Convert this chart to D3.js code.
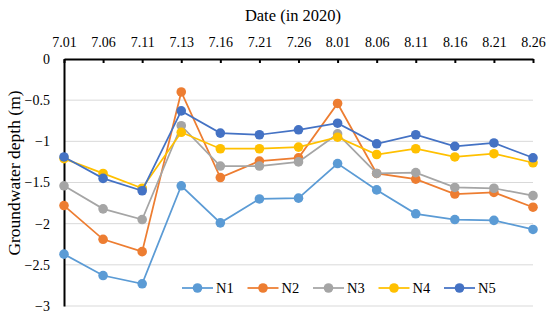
<!DOCTYPE html>
<html>
<head>
<meta charset="utf-8">
<script src="https://cdn.jsdelivr.net/npm/d3@7"></script>
<style>
	body { margin: 0; background: #fff; }
	svg text { font-family: 'Liberation Serif', 'Times New Roman', 'DejaVu Serif', serif !important; }
</style>
</head>
<body>
<svg id="chart" width="550" height="320"></svg>
<script>
'use strict';

// dates along the top axis
var dates = ['7.01', '7.06', '7.11', '7.13', '7.16', '7.21', '7.26', '8.01', '8.06', '8.11', '8.16', '8.21', '8.26'];

// groundwater depth per well (m)
var n1 = [-2.37, -2.63, -2.73, -1.54, -1.99, -1.70, -1.69, -1.27, -1.59, -1.88, -1.95, -1.96, -2.07];
var n2 = [-1.78, -2.19, -2.34, -0.40, -1.44, -1.24, -1.20, -0.54, -1.39, -1.46, -1.64, -1.62, -1.80];
var n3 = [-1.54, -1.82, -1.95, -0.81, -1.30, -1.30, -1.25, -0.91, -1.39, -1.38, -1.56, -1.57, -1.66];
var n4 = [-1.21, -1.39, -1.57, -0.89, -1.09, -1.09, -1.07, -0.95, -1.16, -1.09, -1.19, -1.15, -1.26];
var n5 = [-1.19, -1.45, -1.60, -0.63, -0.90, -0.92, -0.86, -0.78, -1.03, -0.92, -1.06, -1.02, -1.20];

var seriesNames = ['N1', 'N2', 'N3', 'N4', 'N5'];
var seriesValues = [n1, n2, n3, n4, n5];
var seriesColors = ['#5B9BD5', '#ED7D31', '#A5A5A5', '#FFC000', '#4472C4'];

var yTicks = [0, -0.5, -1, -1.5, -2, -2.5, -3];
var yTickLabels = ['0', '\u22120.5', '\u22121', '\u22121.5', '\u22122', '\u22122.5', '\u22123'];

var margin = { top: 59, right: 17, bottom: 14, left: 64 },
	width = 550 - margin.left - margin.right,
	height = 320 - margin.top - margin.bottom;

var svg = d3.select('#chart');
var g = svg.append('g')
	.attr('transform', 'translate(' + margin.left + ',' + margin.top + ')');

var x = d3.scalePoint()
	.domain(dates)
	.range([0, width]);

var y = d3.scaleLinear()
	.domain([0, -3])
	.range([0, height]);

// horizontal gridlines
g.append('g')
	.selectAll('line')
	.data(yTicks.slice(1))
	.enter().append('line')
	.attr('x1', 0)
	.attr('x2', width)
	.attr('y1', function (d) { return y(d); })
	.attr('y2', function (d) { return y(d); })
	.attr('stroke', '#d9d9d9')
	.attr('stroke-width', 1);

// left axis, labels only plus the black line
var yAxis = d3.axisLeft(y)
	.tickValues(yTicks)
	.tickSize(0)
	.tickPadding(14)
	.tickFormat(function (d, i) { return yTickLabels[i]; });

var axisY = g.append('g').call(yAxis);
axisY.select('.domain').attr('stroke', '#000').attr('stroke-width', 2);
axisY.selectAll('text')
	.attr('font-size', 14)
	.attr('fill', '#000');

// top axis with small inward ticks
var xAxis = d3.axisTop(x)
	.tickSizeInner(-4)
	.tickSizeOuter(0)
	.tickPadding(12);

var axisX = g.append('g').call(xAxis);
axisX.select('.domain').attr('stroke', '#000').attr('stroke-width', 2);
axisX.selectAll('.tick line').attr('stroke', '#000').attr('stroke-width', 2);
axisX.selectAll('text')
	.attr('font-size', 14)
	.attr('fill', '#000');

// titles
svg.append('text')
	.attr('x', 293)
	.attr('y', 21)
	.attr('text-anchor', 'middle')
	.attr('font-size', 16.5)
	.text('Date (in 2020)');

svg.append('text')
	.attr('transform', 'translate(20,173) rotate(-90)')
	.attr('text-anchor', 'middle')
	.attr('font-size', 17.5)
	.text('Groundwater depth (m)');

// the lines and markers
var line = d3.line()
	.x(function (d, i) { return x(dates[i]); })
	.y(function (d) { return y(d); });

seriesValues.forEach(function (vals, s) {
	var sg = g.append('g');
	sg.append('path')
		.datum(vals)
		.attr('d', line)
		.attr('fill', 'none')
		.attr('stroke', seriesColors[s])
		.attr('stroke-width', 1.75);
	sg.selectAll('circle')
		.data(vals)
		.enter().append('circle')
		.attr('cx', function (d, i) { return x(dates[i]); })
		.attr('cy', function (d) { return y(d); })
		.attr('r', 4.8)
		.attr('fill', seriesColors[s]);
});

// legend
var legend = svg.append('g')
	.attr('transform', 'translate(182,288)');

var item = legend.selectAll('g')
	.data(seriesNames)
	.enter().append('g')
	.attr('transform', function (d, i) { return 'translate(' + (i * 65.5) + ',0)'; });

item.append('line')
	.attr('x1', 0).attr('x2', 31)
	.attr('stroke', function (d, i) { return seriesColors[i]; })
	.attr('stroke-width', 1.75);
item.append('circle')
	.attr('cx', 15.5)
	.attr('r', 4.8)
	.attr('fill', function (d, i) { return seriesColors[i]; });
item.append('text')
	.attr('x', 34)
	.attr('dy', '0.35em')
	.attr('font-size', 14.5)
	.text(function (d) { return d; });
</script>
</body>
</html>
